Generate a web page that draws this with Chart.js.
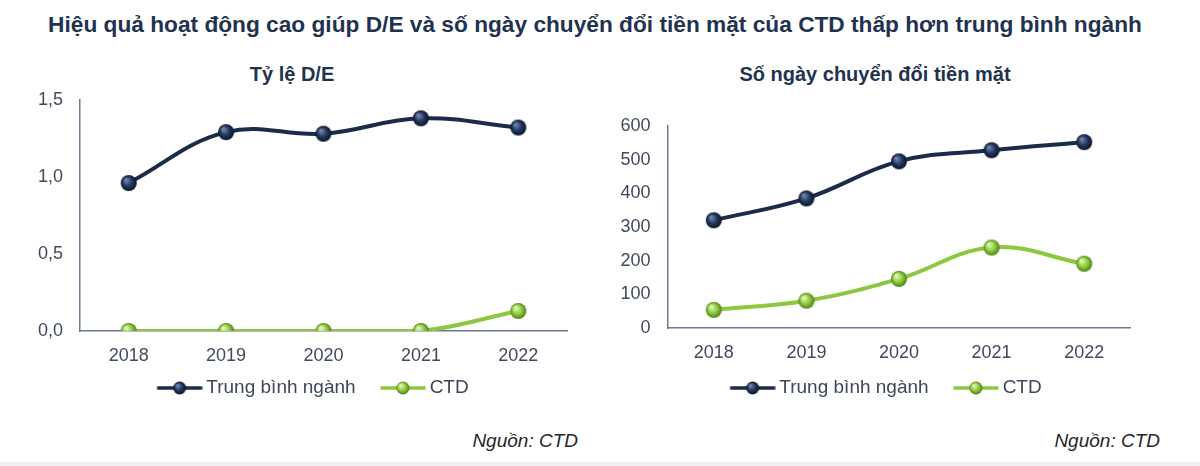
<!DOCTYPE html>
<html>
<head>
<meta charset="utf-8">
<script src="https://cdn.jsdelivr.net/npm/chart.js@4.4.1/dist/chart.umd.min.js"></script>
<style>
  html, body { margin: 0; padding: 0; background: #ffffff; }
  body { width: 1200px; height: 466px; position: relative; overflow: hidden; font-family: 'Liberation Sans', Arial, sans-serif; }
  .abs { position: absolute; white-space: nowrap; }
  #title { left: -5px; width: 1200px; top: 9px; text-align: center; font-weight: bold; font-size: 22.7px; line-height: 30px; color: #1f3350; }
  .sub { font-weight: bold; font-size: 20px; line-height: 24px; color: #1f3350; top: 62px; text-align: center; width: 400px; }
  .src { font-style: italic; font-size: 19px; line-height: 24px; color: #262626; top: 429px; text-align: right; width: 200px; }
  #band { left: 0; top: 462px; width: 1200px; height: 4px; background: #f0f0f0; }
  canvas { position: absolute; }
</style>
</head>
<body>
<div id="title" class="abs">Hiệu quả hoạt động cao giúp D/E và số ngày chuyển đổi tiền mặt của CTD thấp hơn trung bình ngành</div>
<div class="abs sub" style="left:92px;">Tỷ lệ D/E</div>
<div class="abs sub" style="left:675px;">Số ngày chuyển đổi tiền mặt</div>
<canvas id="c1" width="609" height="348" style="left:0px; top:72px;"></canvas>
<canvas id="c2" width="535" height="340" style="left:610px; top:80px;"></canvas>
<div class="abs src" style="left:378px;">Nguồn: CTD</div>
<div class="abs src" style="left:960px;">Nguồn: CTD</div>
<div id="band" class="abs"></div>
<script>
// ---- Data ----
const years = ['2018', '2019', '2020', '2021', '2022'];
const seriesNames = ['Trung bình ngành', 'CTD'];
const deIndustry = [0.96, 1.29, 1.28, 1.38, 1.32];
const deCTD = [0, 0, 0, 0, 0.13];
const cccIndustry = [320, 385, 495, 528, 552];
const cccCTD = [54, 81, 146, 239, 191];
const deTickLabels = ['0,0', '0,5', '1,0', '1,5'];
const cccTickLabels = ['0', '100', '200', '300', '400', '500', '600'];

// ---- Styles ----
const NAVY = '#1b2b4b';
const GREEN = '#8dc63f';
const navyShades = ['#6f86b0', '#22365c', '#0c1528'];
const greenShades = ['#e2f7b8', '#8fcb3e', '#4f7f18'];

Chart.defaults.font.family = "'Liberation Sans', Arial, sans-serif";
Chart.defaults.animation = false;

function drawSphere(ctx, cx, cy, r, shades) {
  const g = ctx.createRadialGradient(cx - r * 0.35, cy - r * 0.4, r * 0.1, cx, cy, r);
  g.addColorStop(0, shades[0]);
  g.addColorStop(0.55, shades[1]);
  g.addColorStop(1, shades[2]);
  ctx.beginPath();
  ctx.arc(cx, cy, r, 0, Math.PI * 2);
  ctx.fillStyle = g;
  ctx.fill();
}
function sphereImage(r, shades) {
  const c = document.createElement('canvas');
  c.width = c.height = Math.ceil(r * 2 + 2);
  drawSphere(c.getContext('2d'), c.width / 2, c.height / 2, r, shades);
  return c;
}
// legend image: 22.5px transparent margin on the left, then 45px line+marker
function legendImage(lineColor, shades) {
  const c = document.createElement('canvas');
  c.width = 68; c.height = 16;
  const ctx = c.getContext('2d');
  const x0 = 22.5;
  ctx.strokeStyle = lineColor; ctx.lineWidth = 3.5;
  ctx.beginPath(); ctx.moveTo(x0, 8); ctx.lineTo(x0 + 45, 8); ctx.stroke();
  drawSphere(ctx, x0 + 22.5, 8, 6.5, shades);
  return c;
}
const navyDot = sphereImage(8, navyShades);
const greenDot = sphereImage(8, greenShades);
const navyLegend = legendImage(NAVY, navyShades);
const greenLegend = legendImage(GREEN, greenShades);

function makeChart(id, a, b, tickLabels, yMax, yStep, yWidth, padWidth, xHeight, padTop) {
  return new Chart(document.getElementById(id), {
    type: 'line',
    data: {
      labels: years,
      datasets: [
        { label: seriesNames[0], data: a, borderColor: NAVY, borderWidth: 4, tension: 0.4,
          pointStyle: navyDot, pointRadius: 8, backgroundColor: NAVY, legendImg: navyLegend },
        { label: seriesNames[1], data: b, borderColor: GREEN, borderWidth: 4, tension: 0.4,
          pointStyle: greenDot, pointRadius: 8, backgroundColor: GREEN, legendImg: greenLegend }
      ]
    },
    options: {
      responsive: false,
      animation: false,
      layout: { padding: { top: padTop, bottom: 12.5, left: 0, right: 0 } },
      plugins: {
        tooltip: { enabled: false },
        title: { display: false },
        legend: {
          position: 'bottom',
          labels: {
            usePointStyle: true,
            pointStyleWidth: 56.5,
            padding: 8,
            color: '#3e4757',
            font: { size: 19 },
            generateLabels(chart) {
              const items = Chart.defaults.plugins.legend.labels.generateLabels(chart);
              items.forEach((it, i) => { it.pointStyle = chart.data.datasets[i].legendImg; });
              return items;
            }
          }
        }
      },
      scales: {
        x: {
          offset: true,
          grid: { display: false, drawTicks: false },
          border: { display: true, color: '#6b7b90', width: 1.5 },
          ticks: { color: '#404a5c', font: { size: 18 }, padding: 14, maxRotation: 0 },
          afterFit(s) { s.height = xHeight; }
        },
        y: {
          min: 0, max: yMax,
          grid: { display: false, drawTicks: false },
          border: { display: true, color: '#6b7b90', width: 1.5 },
          ticks: { stepSize: yStep, color: '#404a5c', font: { size: 18 }, padding: 17,
                   callback: (v, i) => tickLabels[i] },
          afterFit(s) { s.width = yWidth; }
        },
        yPad: {
          type: 'linear', position: 'right', display: true,
          grid: { display: false, drawTicks: false },
          border: { display: false },
          ticks: { display: false },
          afterFit(s) { s.width = padWidth; }
        }
      }
    }
  });
}

makeChart('c1', deIndustry, deCTD, deTickLabels, 1.5, 0.5, 80, 42, 39.5, 0);
makeChart('c2', cccIndustry, cccCTD, cccTickLabels, 600, 100, 57.5, 14.5, 42.5, 46);
</script>
</body>
</html>
